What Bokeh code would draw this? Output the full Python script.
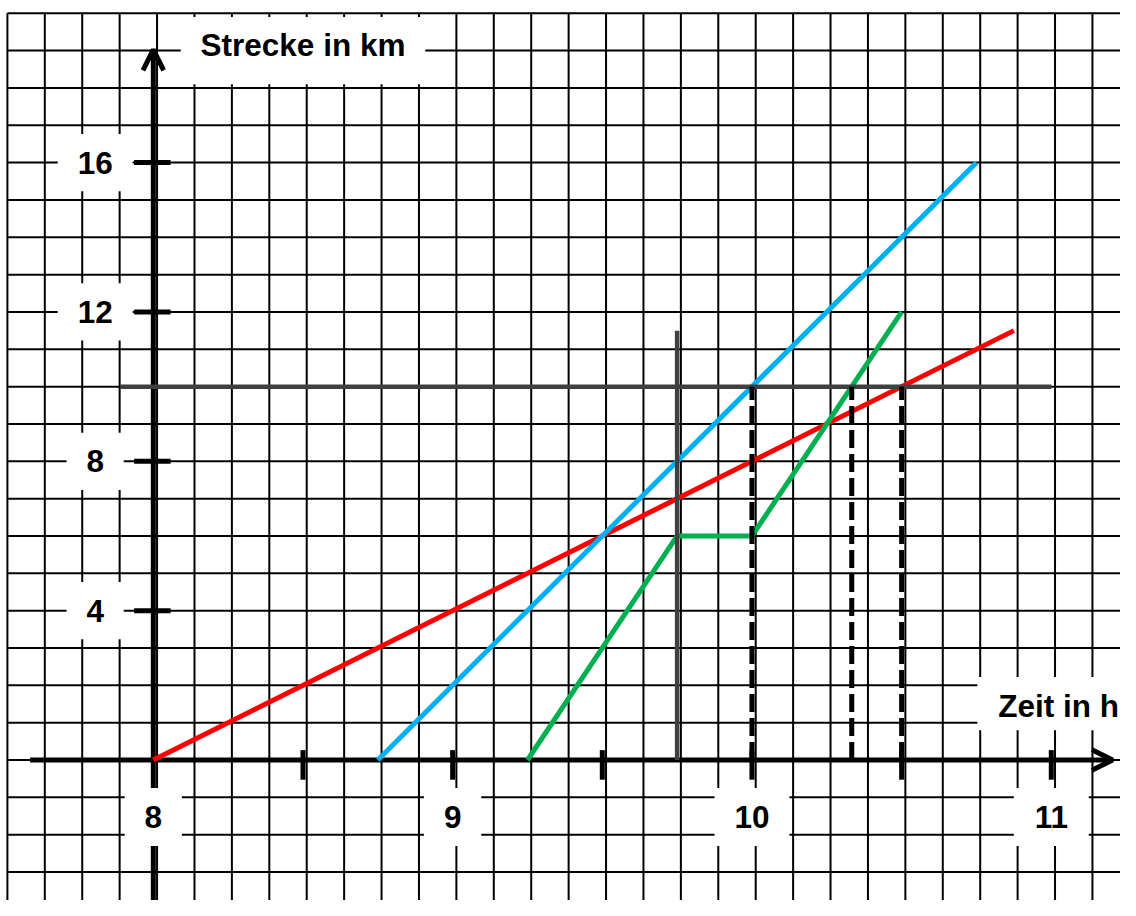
import numpy as np
from bokeh.plotting import figure
from bokeh.models import Range1d, Arrow, OpenHead
from bokeh.core.properties import value
from bokeh.embed import file_html
from bokeh.resources import INLINE

# ---------------- data ----------------
red_t = [8.0, 10.875]
red_s = [0.0, 11.5]
blue_t = [8.75, 10.75]
blue_s = [0.0, 16.0]
green_t = [9.25, 9.75, 10.0, 10.5]
green_s = [0.0, 6.0, 6.0, 12.0]

ref_km = 10.0                 # horizontal reference line (km)
ref_km_t = [7.89, 11.0]
ref_time = 9.75               # vertical reference line (h)
ref_time_s = [0.0, 11.5]
meet_times = [10.0, 10.0 + 1.0 / 3.0, 10.5]   # dashed drop lines

y_ticks = [4, 8, 12, 16]
y_tick_labels = ["4", "8", "12", "16"]
x_ticks = [8.5, 9.0, 9.5, 10.0, 10.5, 11.0]
x_label_pos = [8, 9, 10, 11]
x_tick_labels = ["8", "9", "10", "11"]

x_title = "Zeit in h"
y_title = "Strecke in km"

# ---------------- figure ----------------
W, H = 1120, 900
S = W / 1136.0          # screen scale
PXX = 303.6             # px per hour (reference pixels)
PXY = 38.0              # px per km (reference pixels)
xr = Range1d(8 - 155 / PXX, 8 + (1136 - 155) / PXX)
yr = Range1d(-(916 - 773) / PXY, 773 / PXY)

p = figure(width=W, height=H, x_range=xr, y_range=yr, output_backend="svg",
           toolbar_location=None, min_border=0)
p.axis.visible = False
p.grid.visible = False
p.outline_line_color = None
p.background_fill_color = "white"
p.border_fill_color = "white"

# ---------------- grid (1/8 h, 1 km) ----------------
gx = 8.0125 + np.arange(-4, 27) / 8.0
gy = np.arange(-3, 21)
p.segment(x0=gx, y0=yr.start, x1=gx, y1=gy.max(), line_color="black",
          line_width=2, level="underlay")
p.segment(x0=gx.min(), y0=gy, x1=xr.end, y1=gy, line_color="black",
          line_width=2, level="underlay")

# ---------------- axes with arrows ----------------
head = 21 * S
p.add_layout(Arrow(end=OpenHead(size=head, line_width=5, line_color="black"),
                   x_start=8 - 125 / PXX, y_start=0, x_end=8 + 973 / PXX, y_end=0,
                   line_width=5, line_color="black", level="underlay"))
p.add_layout(Arrow(end=OpenHead(size=head, line_width=5, line_color="black"),
                   x_start=8, y_start=yr.start - 1, x_end=8, y_end=723 / PXY,
                   line_width=5, line_color="black", level="underlay"))

# ---------------- white label boxes ----------------
ylab_x = 8 - 59 / PXX
xlab_y = -58 / PXY
p.rect(x=[ylab_x] * len(y_ticks), y=y_ticks,
       width=[S * (40 + 18 * len(s)) for s in y_tick_labels], height=58 * S,
       width_units="screen", height_units="screen",
       fill_color="white", line_color=None)
p.rect(x=x_label_pos, y=[xlab_y] * len(x_label_pos),
       width=[S * (40 + 18 * len(s)) for s in x_tick_labels], height=59 * S,
       width_units="screen", height_units="screen",
       fill_color="white", line_color=None)
p.rect(x=[8.5], y=[19.0], width=248 * S, height=68 * S, width_units="screen",
       height_units="screen", fill_color="white", line_color=None)
p.rect(x=[11.0], y=[1.51], width=150 * S, height=54 * S, width_units="screen",
       height_units="screen", fill_color="white", line_color=None)

# ---------------- data lines ----------------
p.line(red_t, red_s, line_color="#FF0000", line_width=5)
p.line(blue_t, blue_s, line_color="#00B0F0", line_width=5)
p.line(green_t, green_s, line_color="#00B050", line_width=5, line_join="round")

p.line(ref_km_t, [ref_km, ref_km], line_color="#404040", line_width=4.5)
p.line([ref_time, ref_time], ref_time_s, line_color="#404040", line_width=4.5)
p.segment(x0=meet_times, y0=0, x1=meet_times, y1=ref_km, line_color="black",
          line_width=5, line_dash="18 6")

# ---------------- ticks ----------------
p.scatter(x=[8 - 1 / PXX] * len(y_ticks), y=y_ticks, marker="dash", size=37 * S,
          line_color="black", line_width=5)
p.scatter(x=x_ticks, y=[-5 / PXY] * len(x_ticks), marker="dash", size=30 * S,
          angle=np.pi / 2, line_color="black", line_width=5)

# ---------------- texts ----------------
font = value("Liberation Sans")
fs = "31.5px"
p.text(x=[ylab_x] * len(y_ticks), y=y_ticks, text=y_tick_labels,
       text_font=font, text_font_style="bold", text_font_size=fs,
       text_align="center", text_baseline="middle", text_color="black")
p.text(x=x_label_pos, y=[xlab_y] * len(x_label_pos), text=x_tick_labels,
       text_font=font, text_font_style="bold", text_font_size=fs,
       text_align="center", text_baseline="middle", text_color="black")
p.text(x=[8.5], y=[(773 - 45.5) / PXY], text=[y_title],
       text_font=font, text_font_style="bold", text_font_size=fs,
       text_align="center", text_baseline="middle", text_color="black")
p.text(x=[8 + 857 / PXX], y=[(773 - 718) / PXY], text=[x_title],
       text_font=font, text_font_style="bold", text_font_size=fs,
       text_align="left", text_baseline="middle", text_color="black")

open("out.html", "w").write(file_html(p, INLINE))
